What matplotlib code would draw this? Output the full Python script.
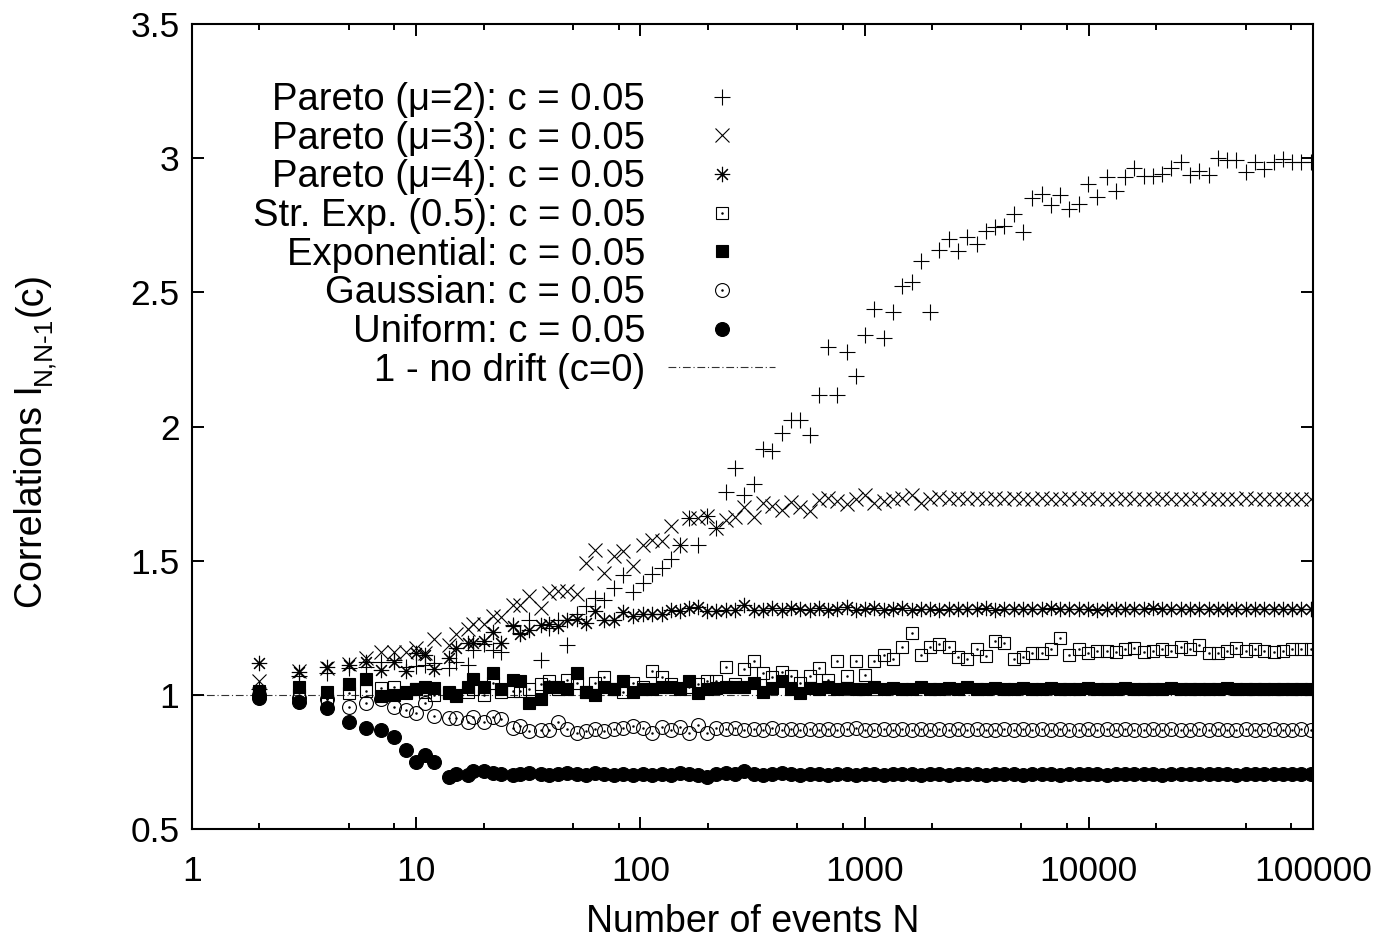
import numpy as np
import matplotlib
matplotlib.use('Agg')
import matplotlib.pyplot as plt
from matplotlib.ticker import FixedLocator, NullFormatter, LogLocator

# number of events N (log spaced)
N = [2, 3, 4, 5, 6, 7, 8, 9,
     10, 11, 12, 14, 15, 17, 18, 20, 22, 24, 27, 29, 32, 36, 39, 43, 47, 52, 57, 63, 69, 76, 84, 93,
     103, 113, 125, 137, 150, 165, 181, 199, 218, 240, 264, 291, 321, 353, 388, 427, 470, 517, 568, 625, 688, 756, 832, 915,
     1007, 1107, 1218, 1340, 1474, 1621, 1783, 1962, 2158, 2374, 2611, 2872, 3159, 3475, 3823, 4205, 4626, 5088, 5597, 6157, 6772, 7450, 8195, 9014, 9915,
     10907, 11998, 13198, 14517, 15969, 17566, 19322, 21255, 23380, 25718, 28290, 31119, 34231, 37654, 41420, 45562, 50118, 55130, 60643, 66707, 73378, 80715, 88787, 97666]

pareto2 = [1.02, 1.07, 1.08, 1.10, 1.105, 1.124, 1.13, 1.105,
           1.109, 1.112, 1.12, 1.10, 1.124, 1.112, 1.168, 1.19, 1.168, 1.158,
           1.261, 1.23, 1.28, 1.128, 1.25, 1.28, 1.187, 1.30, 1.33, 1.36,
           1.355, 1.40, 1.448, 1.385, 1.417, 1.45, 1.473, 1.506, 1.56, 1.66,
           1.56, 1.668, 1.62, 1.755, 1.846, 1.746,
           1.784, 1.917, 1.908, 1.976, 2.024, 2.024, 1.970, 2.119, 2.296, 2.119,
           2.279, 2.190, 2.340, 2.437, 2.331, 2.428, 2.524, 2.539, 2.617, 2.428,
           2.657, 2.698, 2.654, 2.708, 2.679, 2.729, 2.744, 2.747, 2.791, 2.723,
           2.851, 2.866, 2.825, 2.863, 2.810, 2.831, 2.903, 2.856, 2.928, 2.876,
           2.928, 2.963, 2.934, 2.932, 2.940, 2.965, 2.984, 2.937, 2.953, 2.937,
           2.999, 2.993, 2.993, 2.949, 2.986, 2.961, 2.986, 2.996, 2.986, 2.984, 2.984]

pareto3 = [1.05, 1.09, 1.10, 1.115, 1.137, 1.161, 1.161, 1.161,
           1.175, 1.155, 1.208, 1.187, 1.228, 1.245, 1.265, 1.265, 1.292, 1.29,
           1.336, 1.336, 1.367, 1.324, 1.38, 1.386, 1.386, 1.376, 1.491, 1.541,
           1.454, 1.516, 1.535, 1.481, 1.56, 1.576, 1.572, 1.628, 1.56, 1.659,
           1.659, 1.668, 1.622, 1.65, 1.662, 1.70,
           1.664, 1.716, 1.705, 1.688, 1.718, 1.70, 1.684, 1.725, 1.734, 1.721, 1.713, 1.728, 1.746,
           1.716, 1.721, 1.728, 1.735, 1.746, 1.716, 1.728, 1.738,
           1.728, 1.733, 1.73, 1.735, 1.728, 1.732, 1.73, 1.734, 1.729, 1.731,
           1.733, 1.728, 1.73, 1.732, 1.73, 1.733, 1.729, 1.731, 1.73, 1.732,
           1.73, 1.731, 1.729, 1.732, 1.73, 1.731, 1.73, 1.732, 1.729, 1.73,
           1.731, 1.73, 1.732, 1.73, 1.729, 1.731, 1.73, 1.731, 1.73, 1.73]

pareto4 = [1.12, 1.085, 1.105, 1.112, 1.124, 1.093, 1.124, 1.087,
           1.155, 1.149, 1.096, 1.137, 1.174, 1.193, 1.193, 1.199, 1.236, 1.195,
           1.255, 1.228, 1.243, 1.261, 1.265, 1.255, 1.28, 1.282, 1.268, 1.313,
           1.28, 1.28, 1.307, 1.292, 1.302, 1.30, 1.30, 1.317, 1.311, 1.323,
           1.329, 1.311, 1.311, 1.317, 1.316, 1.336, 1.316,
           1.318, 1.322, 1.315, 1.325, 1.32, 1.316, 1.323, 1.318, 1.32, 1.326,
           1.315, 1.32, 1.322, 1.318, 1.32, 1.325, 1.316, 1.32, 1.32, 1.318,
           1.32, 1.321, 1.319, 1.32, 1.322, 1.318, 1.32, 1.321, 1.319, 1.32,
           1.32, 1.322, 1.319, 1.32, 1.321, 1.32, 1.318, 1.32, 1.321, 1.32,
           1.319, 1.32, 1.322, 1.32, 1.319, 1.321, 1.32, 1.32, 1.319, 1.321,
           1.32, 1.32, 1.321, 1.319, 1.32, 1.32, 1.321, 1.32, 1.319, 1.32]

strexp = [1.0, 1.0, 0.985, 1.005, 1.015, 1.025, 1.03, 1.01,
          1.02, 1.01, 1.0, 1.01, 1.0, 1.01, 1.02, 1.0, 1.045, 1.01,
          1.015, 1.015, 1.02, 1.04, 1.05, 1.02, 1.055, 1.045, 1.01, 1.045,
          1.065, 1.02, 1.01, 1.045, 1.03, 1.09, 1.065, 1.04, 1.02, 1.03,
          1.04, 1.05, 1.05, 1.105, 1.04, 1.095,
          1.125, 1.08, 1.065, 1.085, 1.07, 1.045, 1.07, 1.10, 1.055, 1.125, 1.07, 1.125, 1.075,
          1.125, 1.15, 1.135, 1.18, 1.23, 1.15, 1.18, 1.19, 1.18, 1.14,
          1.135, 1.17, 1.145, 1.20, 1.195, 1.135, 1.14, 1.155, 1.155, 1.17,
          1.21, 1.15, 1.17, 1.155, 1.165,
          1.165, 1.16, 1.17, 1.175, 1.16, 1.165, 1.17, 1.165, 1.18, 1.17,
          1.185, 1.155, 1.155, 1.165, 1.175, 1.165, 1.17, 1.165, 1.16, 1.165,
          1.17, 1.17, 1.17]

expo = [1.015, 1.03, 1.01, 1.04, 1.06, 0.995, 1.0, 1.005,
        1.022, 1.03, 1.025, 1.005, 0.995, 1.03, 1.06, 1.03, 1.08, 1.02,
        1.055, 1.05, 0.97, 0.985, 1.03, 1.03, 1.02, 1.08, 1.01, 1.0,
        1.03, 1.02, 1.05, 1.01, 1.02, 1.02, 1.03, 1.03, 1.025, 1.05,
        1.005, 1.02, 1.025, 1.03, 1.03, 1.03,
        1.045, 1.01, 1.025, 1.05, 1.02, 1.005,
        1.025, 1.02, 1.03, 1.02, 1.025, 1.02, 1.022, 1.03, 1.02, 1.025,
        1.022, 1.02, 1.028, 1.02, 1.022, 1.025, 1.02, 1.03, 1.022, 1.02,
        1.025, 1.022, 1.02, 1.025, 1.022, 1.02, 1.025, 1.022, 1.023, 1.02,
        1.025, 1.022, 1.02, 1.023, 1.025, 1.022, 1.02, 1.023, 1.022, 1.025,
        1.02, 1.022, 1.023, 1.022, 1.02, 1.024, 1.022, 1.02, 1.023, 1.022,
        1.022, 1.023, 1.02, 1.022, 1.023]

gauss = [1.0, 0.99, 0.985, 0.955, 0.97, 0.985, 0.955, 0.945,
         0.933, 0.97, 0.92, 0.915, 0.915, 0.90, 0.918, 0.90, 0.918, 0.91,
         0.877, 0.885, 0.865, 0.87, 0.87, 0.90, 0.873, 0.858, 0.866, 0.873,
         0.866, 0.873, 0.877, 0.884, 0.877, 0.858, 0.88, 0.87, 0.88, 0.858,
         0.888, 0.858, 0.877, 0.873, 0.875, 0.87,
         0.873, 0.87, 0.875, 0.868, 0.872, 0.87, 0.874, 0.869, 0.872, 0.87,
         0.871, 0.875, 0.87, 0.868, 0.872, 0.87, 0.871, 0.87, 0.872, 0.87,
         0.871, 0.87, 0.872, 0.87, 0.871, 0.87, 0.87, 0.872, 0.87, 0.871,
         0.87, 0.872, 0.87, 0.871, 0.87, 0.87, 0.871, 0.87, 0.872, 0.87,
         0.871, 0.87, 0.87, 0.871, 0.87, 0.872, 0.87, 0.87, 0.871, 0.87,
         0.871, 0.87, 0.87, 0.871, 0.87, 0.87, 0.871, 0.87, 0.87, 0.871, 0.87]

uniform = [0.99, 0.975, 0.95, 0.90, 0.877, 0.87, 0.843, 0.795,
           0.75, 0.776, 0.75, 0.694, 0.705, 0.70, 0.716, 0.716, 0.71, 0.705,
           0.70, 0.705, 0.71, 0.705, 0.70, 0.705, 0.71, 0.705, 0.70, 0.71,
           0.705, 0.70, 0.705, 0.70, 0.705, 0.70, 0.705, 0.70, 0.71, 0.705,
           0.70, 0.694, 0.705, 0.71, 0.705, 0.715,
           0.705, 0.70, 0.705, 0.71, 0.705, 0.70, 0.705, 0.705, 0.70, 0.705,
           0.705, 0.70, 0.705, 0.705, 0.70, 0.705, 0.705, 0.705, 0.70, 0.705,
           0.705, 0.70, 0.705, 0.705, 0.705, 0.70, 0.705, 0.705, 0.705, 0.70,
           0.705, 0.705, 0.705, 0.70, 0.705, 0.705, 0.705, 0.705, 0.70, 0.705,
           0.705, 0.705, 0.705, 0.705, 0.70, 0.705, 0.705, 0.705, 0.705, 0.705,
           0.705, 0.705, 0.70, 0.705, 0.705, 0.705, 0.705, 0.705, 0.705, 0.705, 0.705]

drift_x = [1, 100000]
drift_y = [1.0, 1.0]

labels = ['Pareto (\u03bc=2): c = 0.05', 'Pareto (\u03bc=3): c = 0.05', 'Pareto (\u03bc=4): c = 0.05',
          'Str. Exp. (0.5): c = 0.05', 'Exponential: c = 0.05', 'Gaussian: c = 0.05',
          'Uniform: c = 0.05', '1 - no drift (c=0)']
xtick_labels = ['1', '10', '100', '1000', '10000', '100000']
ytick_labels = ['0.5', '1', '1.5', '2', '2.5', '3', '3.5']

for s in (pareto2, pareto3, pareto4, strexp, expo, gauss, uniform):
    assert len(s) == len(N), len(s)

plt.rcParams['font.family'] = ['Liberation Sans', 'DejaVu Sans']
FS_TICK = 25.5
FS_LAB = 27
FS_LEG = 27.5
W, H = 1386, 943

fig = plt.figure(figsize=(W / 100, H / 100), dpi=100)
ax = fig.add_axes([192 / W, 114 / H, 1121 / W, 805 / H])

ln, = ax.plot(drift_x, drift_y, color='#333333', lw=0.8, dashes=(7, 2.5, 1, 2.5), zorder=1)

# (data, marker, size, filled, center dot)
series = [
    (pareto2, '+', 11, True, False),
    (pareto3, 'x', 9.5, True, False),
    (pareto4, (8, 2, 0), 11, True, False),
    (strexp, 's', 9, False, True),
    (expo, 's', 9, True, False),
    (gauss, 'o', 10, False, True),
    (uniform, 'o', 10, True, False),
]
handles = []
for data, mk, ms, filled, dot in series:
    kw = dict(ls='none', marker=mk, ms=ms, mew=0.8, color='black', zorder=2)
    if not filled:
        kw['mfc'] = 'none'
    h, = ax.plot(N, data, **kw)
    if dot:
        d, = ax.plot(N, data, ls='none', marker='.', ms=1.6, color='black', zorder=2)
        handles.append((h, d))
    else:
        handles.append(h)
handles.append(ln)

leg = ax.legend(handles, labels, loc='upper right', bbox_to_anchor=(775 / W, (H - 82) / H),
                bbox_transform=fig.transFigure, frameon=False, markerfirst=False,
                fontsize=FS_LEG, handlelength=2.8, handletextpad=0.6, labelspacing=0.07,
                borderpad=0, borderaxespad=0)

ax.set_xscale('log')
ax.set_xlim(1, 100000)
ax.set_ylim(0.5, 3.5)
ax.xaxis.set_major_locator(FixedLocator([1, 10, 100, 1000, 10000, 100000]))
ax.set_xticklabels(xtick_labels)
ax.xaxis.set_minor_locator(LogLocator(base=10, subs=(2, 5, 8)))
ax.xaxis.set_minor_formatter(NullFormatter())
ax.set_yticks([0.5, 1, 1.5, 2, 2.5, 3, 3.5])
ax.set_yticklabels(ytick_labels)

ax.tick_params(which='both', direction='in', top=True, right=True, labelsize=FS_TICK, width=1.4)
ax.tick_params(axis='x', which='major', length=8.5, pad=19)
ax.tick_params(axis='x', which='minor', length=4)
ax.tick_params(axis='y', which='major', length=8.5, pad=9)
for sp in ax.spines.values():
    sp.set_linewidth(1.5)

ax.set_xlabel('Number of events N', fontsize=FS_LAB)
ax.xaxis.set_label_coords(0.5, -0.093)

# y label with a subscript, built from three rotated pieces
fig.canvas.draw()
rend = fig.canvas.get_renderer()
pieces = [('Correlations I', FS_LAB, 0), ('N,N-1', FS_LAB * 0.7, 8), ('(c)', FS_LAB, 0)]
texts = []
for s, fs, drop in pieces:
    t = fig.text(0, 0, s, fontsize=fs, rotation=90, rotation_mode='anchor',
                 ha='left', va='baseline')
    texts.append((t, drop))
lens = [t.get_window_extent(rend).height for t, _ in texts]
xb = 42
yb = (H - 440) - sum(lens) / 2
for (t, drop), L in zip(texts, lens):
    t.set_position(((xb + drop) / W, yb / H))
    yb += L

fig.savefig('out.png', dpi=100)
